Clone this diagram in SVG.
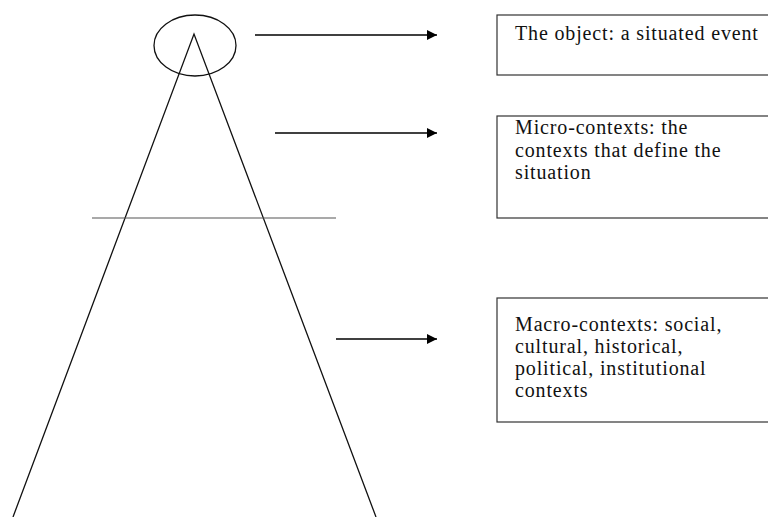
<svg xmlns="http://www.w3.org/2000/svg" width="768" height="517" viewBox="0 0 768 517">
<defs>
<marker id="ah" viewBox="0 0 10 10" refX="10" refY="5" markerWidth="10" markerHeight="10" markerUnits="userSpaceOnUse" orient="auto">
<path d="M0,0 L10,5 L0,10 z" fill="#000"/>
</marker>
<style>
.ln{stroke:#111;stroke-width:1.3;fill:none}
.box{fill:#fff;stroke:#333;stroke-width:1.2}
.t{font-family:"Liberation Serif","Times New Roman",serif;font-size:20px;letter-spacing:0.85px;fill:#111}
.arr{stroke:#000;stroke-width:1.6;marker-end:url(#ah)}
</style>
</defs>
<rect width="768" height="517" fill="#fff"/>
<g id="cone">
<ellipse class="ln" cx="195" cy="45.5" rx="41" ry="30.5"/>
<path class="ln" d="M13,517 L194,34 L376,517"/>
<line x1="92" y1="218" x2="336" y2="218" stroke="#555" stroke-width="1.2"/>
</g>
<g id="connectors">
<line class="arr" x1="255" y1="35" x2="437" y2="35"/>
<line class="arr" x1="275" y1="133" x2="437" y2="133"/>
<line class="arr" x1="336" y1="339" x2="437" y2="339"/>
</g>
<g id="box-object">
<rect class="box" x="497" y="15" width="280" height="60"/>
<text class="t" x="515" y="39.5">The object: a situated event</text>
</g>
<g id="box-micro">
<rect class="box" x="497" y="116" width="280" height="102"/>
<text class="t" x="515" y="134">Micro-contexts: the</text>
<text class="t" x="515" y="156.5">contexts that define the</text>
<text class="t" x="515" y="179">situation</text>
</g>
<g id="box-macro">
<rect class="box" x="497" y="298" width="280" height="124"/>
<text class="t" x="515" y="331">Macro-contexts: social,</text>
<text class="t" x="515" y="353">cultural, historical,</text>
<text class="t" x="515" y="375">political, institutional</text>
<text class="t" x="515" y="397">contexts</text>
</g>
</svg>
